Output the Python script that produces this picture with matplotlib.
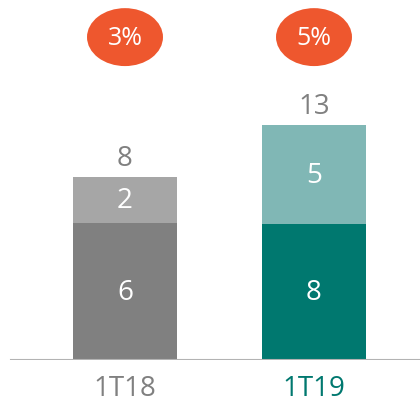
import matplotlib.pyplot as plt
from matplotlib.patches import Ellipse

plt.rcParams['font.family'] = ['Open Sans', 'DejaVu Sans']

# datos
periodos = ["1T18", "1T19"]
base_h = [5.98, 5.94]      # altura dibujada del tramo inferior
sup_h = [2.0, 4.32]        # altura dibujada del tramo superior
base_lbl = ["6", "8"]
sup_lbl = ["2", "5"]
total_lbl = ["8", "13"]
pct_lbl = ["3%", "5%"]

col_base = ["#808080", "#00786f"]
col_sup = ["#a6a6a6", "#80b7b5"]
col_txt = ["#808080", "#00786f"]

fig = plt.figure(figsize=(4.2, 4.02), dpi=100)
ax = fig.add_axes([0, 41 / 402, 1, 361 / 402])

x = range(len(periodos))
ax.bar(x, base_h, width=0.55, color=col_base)
ax.bar(x, sup_h, width=0.55, bottom=base_h, color=col_sup)

for i in x:
    ax.text(i, base_h[i] / 2, base_lbl[i], ha='center', va='center', color='white', fontsize=20)
    ax.text(i, base_h[i] + sup_h[i] / 2, sup_lbl[i], ha='center', va='center', color='white', fontsize=20)
    ax.annotate(total_lbl[i], (i, base_h[i] + sup_h[i]), xytext=(0, 9), textcoords='offset points',
                ha='center', va='baseline', color='#808080', fontsize=20)
    ax.add_patch(Ellipse((i, 14.1), 0.402, 2.53, color='#ee572e', lw=0))
    ax.text(i, 14.1, pct_lbl[i], ha='center', va='center', color='white', fontsize=18)

ax.axhline(0, xmin=11 / 420, xmax=1, color='#b3b3b3', lw=1.5)

ax.set_xlim(-125 / 189, 1 + 106 / 189)
ax.set_ylim(0, 361 / 22.9)
ax.set_xticks(list(x))
ax.set_xticklabels(periodos, fontsize=20)
for t, c in zip(ax.get_xticklabels(), col_txt):
    t.set_color(c)
ax.tick_params(axis='x', length=0, pad=10)
ax.set_yticks([])
for s in ax.spines.values():
    s.set_visible(False)

fig.savefig("out.png", dpi=100)
